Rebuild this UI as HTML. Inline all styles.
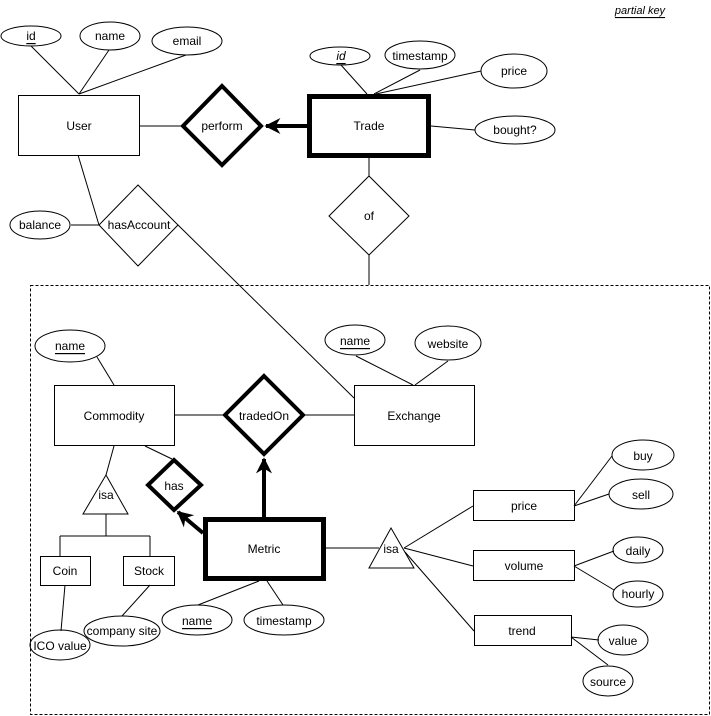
<!DOCTYPE html>
<html><head><meta charset="utf-8"><style>
html,body{margin:0;padding:0;background:#fff}
svg{display:block}
text{font-family:"Liberation Sans",Arial,sans-serif;font-size:12px;fill:#000;text-anchor:middle;dominant-baseline:central}
</style></head><body>
<svg width="711" height="716" viewBox="0 0 711 716" xmlns="http://www.w3.org/2000/svg">
<defs>
<marker id="ah" viewBox="0 0 10 10" refX="9" refY="5" markerWidth="4" markerHeight="4" orient="auto" markerUnits="strokeWidth">
<path d="M0,0 L10,5 L0,10 L3,5 z" fill="#000"/>
</marker>
</defs>
<g stroke="#000" fill="none" stroke-width="1">
<!-- dashed box -->
<rect x="30.5" y="285.5" width="679" height="429" stroke-dasharray="3,2"/>
<!-- user attribute lines -->
<line x1="31" y1="46" x2="79" y2="94"/>
<line x1="109" y1="50" x2="79" y2="94"/>
<line x1="186" y1="55" x2="79" y2="94"/>
<line x1="139" y1="126" x2="181" y2="126"/>
<line x1="78" y1="155" x2="99" y2="225"/>
<line x1="71" y1="225" x2="99" y2="225"/>
<line x1="178" y1="225" x2="354" y2="398"/>
<!-- trade lines -->
<line x1="341" y1="65" x2="367" y2="94"/>
<line x1="420" y1="70" x2="374" y2="94"/>
<line x1="481" y1="71" x2="376" y2="94"/>
<line x1="431" y1="126" x2="475" y2="130"/>
<line x1="369" y1="157" x2="369" y2="176"/>
<line x1="369" y1="255" x2="369" y2="285"/>
<!-- commodity/exchange -->
<line x1="97" y1="357" x2="114" y2="385"/>
<line x1="174" y1="415" x2="223" y2="415"/>
<line x1="305" y1="415" x2="354" y2="415"/>
<line x1="356" y1="356" x2="413" y2="385"/>
<line x1="448" y1="361" x2="415" y2="385"/>
<line x1="145" y1="446" x2="172" y2="459"/>
<line x1="114" y1="446" x2="106" y2="475"/>
<line x1="106" y1="514" x2="106" y2="536"/>
<line x1="60" y1="536" x2="150" y2="536"/>
<line x1="60" y1="536" x2="60" y2="556"/>
<line x1="150" y1="536" x2="150" y2="556"/>
<line x1="65" y1="585" x2="61" y2="631"/>
<line x1="150" y1="585" x2="122" y2="616"/>
<line x1="198" y1="605" x2="259" y2="581"/>
<line x1="283" y1="605" x2="267" y2="581"/>
<line x1="325" y1="548" x2="379" y2="548"/>
<line x1="404" y1="548" x2="473" y2="506"/>
<line x1="404" y1="548" x2="473" y2="566"/>
<line x1="405" y1="552" x2="474" y2="631"/>
<line x1="574" y1="506" x2="612" y2="456"/>
<line x1="574" y1="506" x2="609" y2="494"/>
<line x1="574" y1="566" x2="614" y2="551"/>
<line x1="574" y1="566" x2="614" y2="590"/>
<line x1="571" y1="637" x2="599" y2="640"/>
<line x1="571" y1="637" x2="608" y2="665"/>
<!-- ellipses -->
<ellipse cx="31" cy="36" rx="30" ry="10"/>
<ellipse cx="110" cy="36" rx="30" ry="14"/>
<ellipse cx="187" cy="41" rx="35" ry="14"/>
<ellipse cx="340" cy="56" rx="30" ry="9"/>
<ellipse cx="420" cy="55" rx="35" ry="14"/>
<ellipse cx="514" cy="71" rx="33" ry="17"/>
<ellipse cx="515" cy="130" rx="40" ry="14"/>
<ellipse cx="40" cy="225" rx="30" ry="14"/>
<ellipse cx="70" cy="346" rx="35" ry="16"/>
<ellipse cx="355" cy="340" rx="30" ry="15"/>
<ellipse cx="448" cy="343" rx="33" ry="17"/>
<ellipse cx="60" cy="645" rx="30" ry="15"/>
<ellipse cx="122" cy="631" rx="38" ry="15"/>
<ellipse cx="197" cy="620" rx="35" ry="15"/>
<ellipse cx="284" cy="620" rx="40" ry="15"/>
<ellipse cx="643" cy="455" rx="31" ry="15"/>
<ellipse cx="641" cy="494" rx="32" ry="15"/>
<ellipse cx="638" cy="550" rx="25" ry="13"/>
<ellipse cx="638" cy="594" rx="25" ry="13"/>
<ellipse cx="623" cy="640" rx="25" ry="15"/>
<ellipse cx="608" cy="681" rx="25" ry="15"/>
<!-- rects -->
<rect x="18.5" y="95.5" width="121" height="60"/>
<rect x="54.5" y="385.5" width="120" height="60"/>
<rect x="354.5" y="385.5" width="120" height="60"/>
<rect x="40.5" y="556.5" width="50" height="29"/>
<rect x="123.5" y="556.5" width="51" height="29"/>
<rect x="473.5" y="490.5" width="101" height="30"/>
<rect x="473.5" y="550.5" width="101" height="30"/>
<rect x="474.5" y="615.5" width="97" height="30"/>
<!-- diamonds -->
<polygon points="369,176 409,216 369,255 329,216"/>
<polygon points="138,185 178,225 138,266 99,225"/>
<!-- triangles -->
<polygon points="106,475 128,514 83,514"/>
<polygon points="391,528 414,568 369,568"/>
</g>
<g stroke="#000" fill="none">
<rect x="309.5" y="96.5" width="119" height="59" stroke-width="5"/>
<rect x="205.5" y="519.5" width="118" height="59" stroke-width="5"/>
<polygon points="222,86 261,126 222,165 183,126" stroke-width="4"/>
<polygon points="264,376 303,415 264,454 225,415" stroke-width="4"/>
<polygon points="174,460 201,485 174,510 148,485" stroke-width="4"/>
<line x1="307" y1="126" x2="266" y2="126" stroke-width="4" marker-end="url(#ah)"/>
<line x1="264" y1="517" x2="264" y2="459" stroke-width="4" marker-end="url(#ah)"/>
<line x1="203" y1="533" x2="178" y2="512" stroke-width="4" marker-end="url(#ah)"/>
</g>
<g>
<text x="640" y="11" style="font-style:italic;text-decoration:underline;font-size:11px">partial key</text>
<text x="31" y="36" style="text-decoration:underline">id</text>
<text x="110" y="36">name</text>
<text x="187" y="41">email</text>
<text x="341" y="56" style="font-style:italic;text-decoration:underline">id</text>
<text x="420" y="56">timestamp</text>
<text x="514" y="71">price</text>
<text x="515" y="130">bought?</text>
<text x="79" y="126">User</text>
<text x="222" y="126">perform</text>
<text x="369" y="126">Trade</text>
<text x="369" y="216">of</text>
<text x="40" y="225">balance</text>
<text x="139" y="225">hasAccount</text>
<text x="70" y="346" style="text-decoration:underline">name</text>
<text x="355" y="341" style="text-decoration:underline">name</text>
<text x="448" y="344">website</text>
<text x="114" y="416">Commodity</text>
<text x="264" y="416">tradedOn</text>
<text x="414" y="416">Exchange</text>
<text x="174" y="486">has</text>
<text x="106" y="495">isa</text>
<text x="65" y="571">Coin</text>
<text x="149" y="571">Stock</text>
<text x="264" y="549">Metric</text>
<text x="391" y="549">isa</text>
<text x="524" y="506">price</text>
<text x="524" y="566">volume</text>
<text x="522" y="631">trend</text>
<text x="643" y="456">buy</text>
<text x="641" y="495">sell</text>
<text x="638" y="551">daily</text>
<text x="638" y="594">hourly</text>
<text x="623" y="641">value</text>
<text x="608" y="682">source</text>
<text x="60" y="646">ICO value</text>
<text x="122" y="631">company site</text>
<text x="197" y="621" style="text-decoration:underline">name</text>
<text x="284" y="621">timestamp</text>
</g>
</svg>
</body></html>
